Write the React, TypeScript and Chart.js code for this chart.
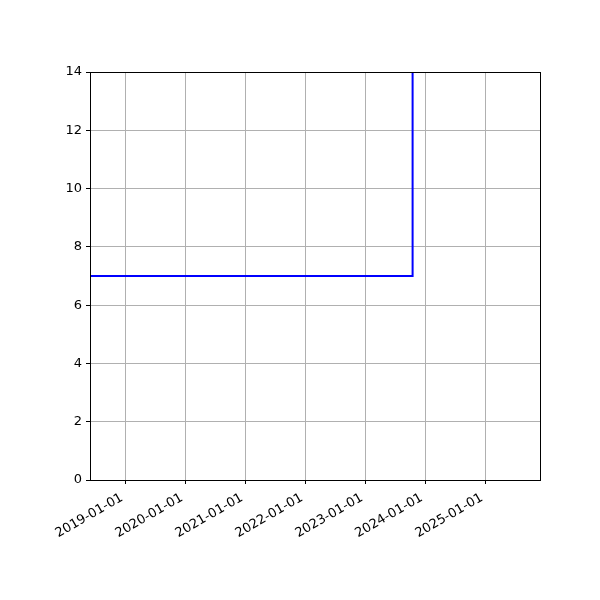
import React, { useEffect, useRef } from "react";
import { Chart, registerables } from "chart.js";

Chart.register(...registerables);

const xMinDate = "2018-05-29";
const xMaxDate = "2025-11-29";
const stepDates = ["2018-05-29", "2023-10-15", "2023-10-15"];
const stepValues = [7, 7, 20];
const tickYears = [2019, 2020, 2021, 2022, 2023, 2024, 2025];
const yTicks = [0, 2, 4, 6, 8, 10, 12, 14];

const ts = (d: string) => Date.parse(d + "T00:00:00Z");
const pad = (n: number) => (n < 10 ? "0" + n : "" + n);
const fmt = (v: number) => {
  const d = new Date(v);
  return `${d.getUTCFullYear()}-${pad(d.getUTCMonth() + 1)}-${pad(d.getUTCDate())}`;
};

const frame = {
  id: "frame",
  afterDatasetsDraw(chart: any) {
    const { ctx, chartArea: a } = chart;
    ctx.save();
    ctx.strokeStyle = "#000";
    ctx.lineWidth = 1;
    ctx.strokeRect(Math.round(a.left) + 0.5, Math.round(a.top) + 0.5, Math.round(a.right - a.left), Math.round(a.bottom - a.top));
    ctx.restore();
  },
};

export default function App() {
  const ref = useRef<HTMLCanvasElement>(null);
  useEffect(() => {
    document.body.style.margin = "0";
    const font = { family: "DejaVu Sans", size: 13 };
    const chart = new Chart(ref.current!, {
      type: "line",
      data: {
        datasets: [
          {
            data: stepDates.map((d, i) => ({ x: ts(d), y: stepValues[i] })),
            borderColor: "#0000ff",
            borderWidth: 2,
            pointRadius: 0,
            fill: false,
          },
        ],
      },
      plugins: [frame],
      options: {
        animation: false,
        responsive: false,
        devicePixelRatio: 1,
        layout: { padding: { top: 72, right: 60, left: 0, bottom: 0 } },
        plugins: { legend: { display: false }, tooltip: { enabled: false } },
        scales: {
          x: {
            type: "linear",
            min: ts(xMinDate),
            max: ts(xMaxDate),
            afterBuildTicks: (s: any) => {
              s.ticks = tickYears.map((y) => ({ value: ts(`${y}-01-01`) }));
            },
            afterFit: (s: any) => {
              s.height = 120;
            },
            border: { display: false },
            grid: { color: "#b0b0b0", lineWidth: 1, tickColor: "#000", tickLength: 4 },
            ticks: {
              color: "#000",
              font,
              minRotation: 30,
              maxRotation: 30,
              autoSkip: false,
              padding: 4,
              callback: (v: any) => fmt(Number(v)) + " ",
            },
          },
          y: {
            min: 0,
            max: 14,
            afterBuildTicks: (s: any) => {
              s.ticks = yTicks.map((v) => ({ value: v }));
            },
            afterFit: (s: any) => {
              s.width = 90;
            },
            border: { display: false },
            grid: { color: "#b0b0b0", lineWidth: 1, tickColor: "#000", tickLength: 4 },
            ticks: { color: "#000", font, padding: 4 },
          },
        },
      },
    } as any);
    return () => chart.destroy();
  }, []);
  return (
    <div style={{ position: "absolute", left: 0, top: 0, width: 600, height: 600, background: "#fff" }}>
      <canvas ref={ref} width={600} height={600} style={{ width: 600, height: 600 }} />
    </div>
  );
}
